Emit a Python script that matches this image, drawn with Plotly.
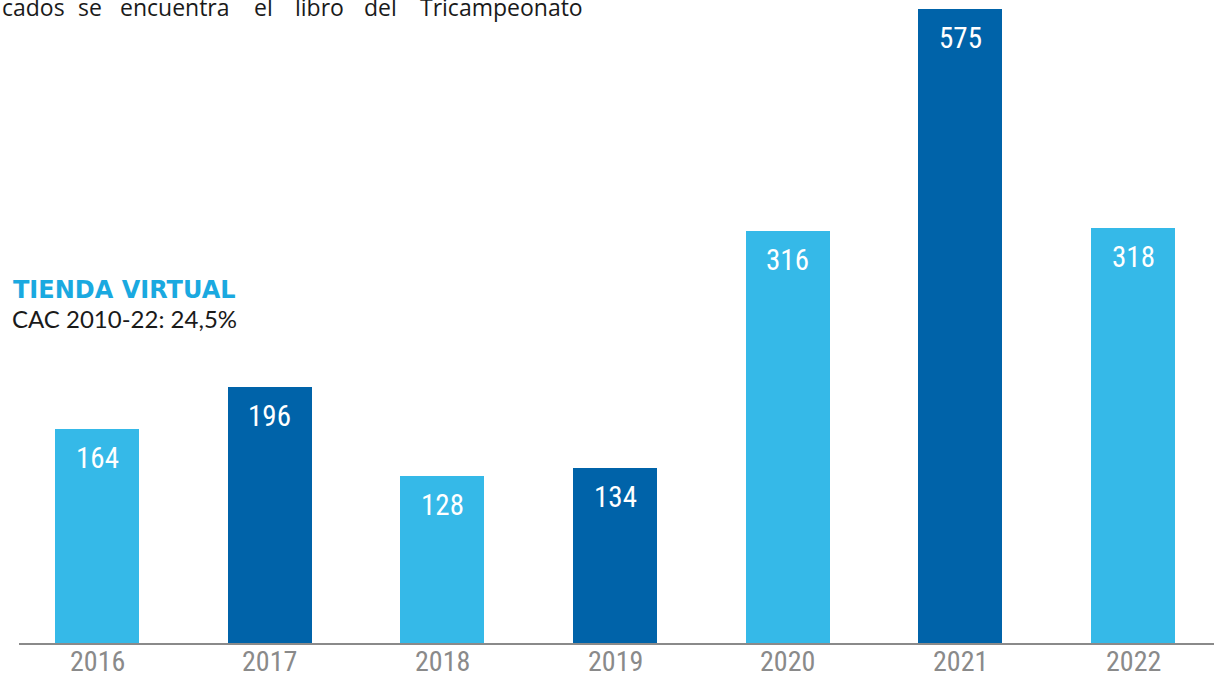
import plotly.graph_objects as go

years = ["2016", "2017", "2018", "2019", "2020", "2021", "2022"]
values = [164, 196, 128, 134, 316, 575, 318]
labels = ["164", "196", "128", "134", "316", "575", "318"]
bar_colors = ["#35B9E8", "#0063A9", "#35B9E8", "#0063A9", "#35B9E8", "#0063A9", "#35B9E8"]

title_text = "TIENDA VIRTUAL"
subtitle_text = "CAC 2010-22: 24,5%"
top_words = ["cados", "se", "encuentra", "el", "libro", "del", "Tricampeonato"]
top_word_x = [0, 76, 118, 252, 293, 362, 418]

NARROW = "'Liberation Sans Narrow', 'Roboto Condensed', 'Arial Narrow', Roboto, sans-serif"

W, H = 1214, 675
ML, MR, MT, MB = 19, 0, 9, 32
PW, PH = W - ML - MR, H - MT - MB

YMAX = 486
xr0, xr1 = -0.4517, 6.469

fig = go.Figure()
fig.add_trace(go.Bar(
    x=list(range(len(years))), y=values,
    marker=dict(color=bar_colors, line=dict(width=0)),
    width=0.4865, hoverinfo="skip", textposition="none",
))

for i, (v, t) in enumerate(zip(values, labels)):
    fig.add_annotation(
        x=i, y=min(v, YMAX), xref="x", yref="y", text=t, showarrow=False,
        yanchor="middle", yshift=-29,
        font=dict(family=NARROW, size=29, color="white"),
    )

for i, yl in enumerate(years):
    fig.add_annotation(
        x=i, y=0, xref="x", yref="y", text=yl, showarrow=False,
        yanchor="middle", yshift=-18,
        font=dict(family=NARROW, size=28, color="#8a8a8a"),
    )

def px_x(p):
    return (p - ML) / PW

def px_y(p):
    return (H - MB - p) / PH

fig.add_annotation(
    x=px_x(11), y=px_y(290), xref="paper", yref="paper", text="<b>" + title_text + "</b>",
    showarrow=False, xanchor="left", yanchor="middle",
    font=dict(family="DejaVu Sans", size=24, color="#1AA9E0"),
)
fig.add_annotation(
    x=px_x(10), y=px_y(318), xref="paper", yref="paper", text=subtitle_text,
    showarrow=False, xanchor="left", yanchor="middle",
    font=dict(family="Lato", size=24, color="#1a1a1a"),
)
for w, xp in zip(top_words, top_word_x):
    fig.add_annotation(
        x=px_x(xp), y=px_y(7), xref="paper", yref="paper", text=w,
        showarrow=False, xanchor="left", yanchor="middle",
        font=dict(family="Open Sans", size=23, color="#1a1a1a"),
    )

fig.update_layout(
    width=W, height=H,
    margin=dict(l=ML, r=MR, t=MT, b=MB, pad=0, autoexpand=False),
    plot_bgcolor="white", paper_bgcolor="white",
    showlegend=False,
    bargap=0,
    xaxis=dict(
        range=[xr0, xr1], showticklabels=False,
        showgrid=False, zeroline=False, showline=True, linecolor="#8a8a8a", linewidth=2,
        ticks="", automargin=False, fixedrange=True,
    ),
    yaxis=dict(range=[0, YMAX], visible=False, fixedrange=True, automargin=False),
)

fig.write_html("out.html", config={"displayModeBar": False},
               post_script="document.body.style.margin='0';")
